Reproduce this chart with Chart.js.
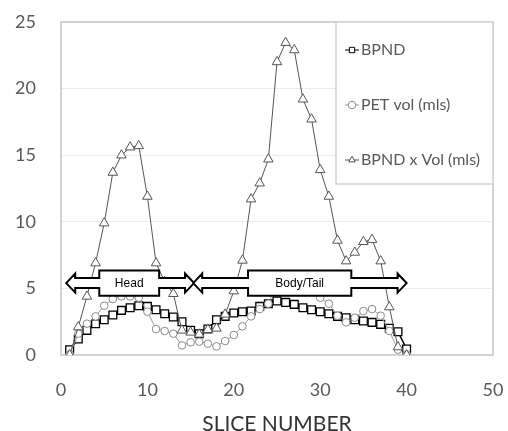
<!DOCTYPE html>
<html>
<head>
<meta charset="utf-8">
<script src="https://cdn.jsdelivr.net/npm/chart.js@4.4.1/dist/chart.umd.min.js"></script>
<style>
  html, body { margin: 0; padding: 0; background: #fff; }
  #wrap { width: 508px; height: 431px; }
</style>
</head>
<body>
<div id="wrap"><canvas id="chart" width="508" height="431"></canvas></div>
<script>
// Slice numbers and the three series
const slices = [1, 2, 3, 4, 5, 6, 7, 8, 9, 10, 11, 12, 13, 14, 15, 16, 17, 18, 19, 20,
                21, 22, 23, 24, 25, 26, 27, 28, 29, 30, 31, 32, 33, 34, 35, 36, 37, 38, 39, 40];
const bpnd = [0.4, 1.2, 1.85, 2.35, 2.65, 3.0, 3.35, 3.55, 3.7, 3.65, 3.4, 3.1, 2.85, 2.5, 1.85, 1.6, 1.95, 2.65, 2.9, 3.15,
              3.25, 3.3, 3.65, 3.85, 4.05, 3.95, 3.8, 3.55, 3.4, 3.25, 3.1, 2.9, 2.8, 2.65, 2.55, 2.45, 2.3, 2.0, 1.75, 0.45];
const petVol = [0.05, 1.6, 2.35, 2.9, 3.7, 4.2, 4.4, 4.4, 4.3, 3.25, 1.95, 1.8, 1.6, 0.72, 0.95, 1.0, 0.85, 0.65, 1.05, 1.5,
                2.15, 2.9, 3.45, 3.85, 5.4, 5.9, 6.0, 5.4, 5.2, 4.3, 3.85, 2.95, 2.45, 2.8, 3.3, 3.45, 2.95, 1.8, 0.4, 0.05];
const bpndVol = [0, 2.1, 4.4, 6.9, 9.9, 13.7, 15.0, 15.6, 15.7, 11.9, 6.9, 5.5, 4.6, 1.85, 1.7, 1.55, 1.9, 2.0, 3.05, 4.8,
                 7.1, 11.7, 12.9, 14.7, 22.0, 23.45, 22.9, 19.2, 17.7, 13.9, 11.9, 8.6, 7.05, 7.7, 8.5, 8.66, 7.05, 3.6, 0.6, 0];
const seriesNames = ['BPND', 'PET vol (mls)', 'BPND x Vol (mls)'];
const xTicks = [0, 10, 20, 30, 40, 50];
const yTicks = [0, 5, 10, 15, 20, 25];

// Region arrows (in slice / value units)
const regionNames = ['Head', 'Body/Tail'];
const regionFrom = [0.6, 15.3];
const regionTo = [15.4, 40.0];
const regionBoxFrom = [4.43, 21.65];
const regionBoxTo = [11.36, 33.6];
const regionMid = 5.4;
const regionBoxTop = 6.35;
const regionBoxBottom = 4.45;

function toPoints(values) {
    return slices.map((s, i) => ({ x: s, y: values[i] }));
}

// Light grey frame round the plot area
const frame = {
    id: 'frame',
    beforeDatasetsDraw(chart) {
        const a = chart.chartArea;
        const ctx = chart.ctx;
        ctx.save();
        ctx.strokeStyle = '#d3d3d3';
        ctx.lineWidth = 2;
        ctx.strokeRect(a.left, a.top, a.right - a.left, a.bottom - a.top);
        ctx.restore();
    }
};

// Double block arrows marking head and body/tail
const regions = {
    id: 'regions',
    afterDatasetsDraw(chart) {
        const ctx = chart.ctx;
        const xs = chart.scales.x;
        const ys = chart.scales.y;
        const yc = ys.getPixelForValue(regionMid);
        const bt = ys.getPixelForValue(regionBoxTop);
        const bb = ys.getPixelForValue(regionBoxBottom);
        const shaft = 5, head = 9.5, headLen = 9;
        ctx.save();
        regionNames.forEach((name, i) => {
            const x0 = xs.getPixelForValue(regionFrom[i]);
            const x1 = xs.getPixelForValue(regionTo[i]);
            const b0 = xs.getPixelForValue(regionBoxFrom[i]);
            const b1 = xs.getPixelForValue(regionBoxTo[i]);
            ctx.beginPath();
            ctx.moveTo(x0, yc);
            ctx.lineTo(x0 + headLen, yc - head);
            ctx.lineTo(x0 + headLen, yc - shaft);
            ctx.lineTo(b0, yc - shaft);
            ctx.lineTo(b0, bt);
            ctx.lineTo(b1, bt);
            ctx.lineTo(b1, yc - shaft);
            ctx.lineTo(x1 - headLen, yc - shaft);
            ctx.lineTo(x1 - headLen, yc - head);
            ctx.lineTo(x1, yc);
            ctx.lineTo(x1 - headLen, yc + head);
            ctx.lineTo(x1 - headLen, yc + shaft);
            ctx.lineTo(b1, yc + shaft);
            ctx.lineTo(b1, bb);
            ctx.lineTo(b0, bb);
            ctx.lineTo(b0, yc + shaft);
            ctx.lineTo(x0 + headLen, yc + shaft);
            ctx.lineTo(x0 + headLen, yc + head);
            ctx.closePath();
            ctx.fillStyle = '#fff';
            ctx.fill();
            ctx.lineWidth = 2;
            ctx.lineJoin = 'miter';
            ctx.strokeStyle = '#000';
            ctx.stroke();
            ctx.fillStyle = '#000';
            ctx.font = '12px "Liberation Sans", Arial, sans-serif';
            ctx.textAlign = 'center';
            ctx.textBaseline = 'middle';
            ctx.fillText(name, (b0 + b1) / 2, (bt + bb) / 2 + 1);
        });
        ctx.restore();
    }
};

// Legend box sitting inside the top right of the plot
const insideLegend = {
    id: 'insideLegend',
    afterDraw(chart) {
        const a = chart.chartArea;
        const ctx = chart.ctx;
        const w = 157, h = 162;
        const x0 = a.right - w;
        const y0 = a.top;
        ctx.save();
        ctx.fillStyle = '#fff';
        ctx.fillRect(x0, y0, w, h);
        ctx.strokeStyle = '#d3d3d3';
        ctx.lineWidth = 1.5;
        ctx.strokeRect(x0, y0, w, h);
        chart.data.datasets.forEach((ds, i) => {
            const y = y0 + 28 + i * 55;
            ctx.strokeStyle = ds.borderColor;
            ctx.lineWidth = 1;
            ctx.beginPath();
            ctx.moveTo(x0 + 9, y);
            ctx.lineTo(x0 + 23, y);
            ctx.stroke();
            ctx.fillStyle = '#fff';
            ctx.strokeStyle = ds.pointBorderColor;
            ctx.lineWidth = 1;
            Chart.helpers.drawPoint(ctx, { pointStyle: ds.pointStyle, radius: 3.8, borderWidth: 1, rotation: 0 }, x0 + 16, y);
            ctx.fillStyle = '#595959';
            ctx.font = '16px Lato, sans-serif';
            ctx.textAlign = 'left';
            ctx.textBaseline = 'middle';
            ctx.fillText(ds.label, x0 + 25, y);
        });
        ctx.restore();
    }
};

const ctx = document.getElementById('chart').getContext('2d');
new Chart(ctx, {
    type: 'line',
    data: {
        datasets: [{
            label: seriesNames[0],
            data: toPoints(bpnd),
            borderColor: '#000',
            borderWidth: 1.5,
            pointStyle: 'rect',
            pointRadius: 5.5,
            pointBorderWidth: 1.3,
            pointBorderColor: '#000',
            pointBackgroundColor: '#fff',
            order: 3
        }, {
            label: seriesNames[1],
            data: toPoints(petVol),
            borderColor: '#9a9a9a',
            borderWidth: 1,
            pointStyle: 'circle',
            pointRadius: 3.8,
            pointBorderWidth: 1,
            pointBorderColor: '#8a8a8a',
            pointBackgroundColor: '#fff',
            order: 2
        }, {
            label: seriesNames[2],
            data: toPoints(bpndVol),
            borderColor: '#555',
            borderWidth: 1,
            pointStyle: 'triangle',
            pointRadius: 5.5,
            pointBorderWidth: 1,
            pointBorderColor: '#555',
            pointBackgroundColor: '#fff',
            order: 1
        }]
    },
    options: {
        responsive: false,
        animation: false,
        layout: { padding: { left: 0, top: 22, right: 15, bottom: 0 } },
        plugins: {
            legend: { display: false },
            tooltip: { enabled: false }
        },
        scales: {
            x: {
                type: 'linear',
                min: 0,
                max: 50,
                afterBuildTicks: (s) => { s.ticks = xTicks.map(v => ({ value: v })); },
                afterFit: (s) => { s.height = 76; s.paddingLeft = 0; s.paddingRight = 0; },
                grid: { display: false, drawTicks: false, tickLength: 0 },
                border: { display: false },
                ticks: {
                    color: '#595959',
                    font: { family: 'Lato', size: 18 },
                    padding: 24,
                    maxRotation: 0
                },
                title: {
                    display: true,
                    text: 'SLICE NUMBER',
                    color: '#333',
                    font: { family: 'Lato', size: 21 },
                    padding: { top: 0, bottom: -6 }
                }
            },
            y: {
                min: 0,
                max: 25,
                afterBuildTicks: (s) => { s.ticks = yTicks.map(v => ({ value: v })); },
                afterFit: (s) => { s.width = 61; s.paddingTop = 0; s.paddingBottom = 0; },
                grid: {
                    drawTicks: false,
                    tickLength: 0,
                    color: '#ebebeb',
                    lineWidth: 1
                },
                border: { display: false },
                ticks: {
                    color: '#595959',
                    font: { family: 'Lato', size: 18 },
                    padding: 25
                }
            }
        }
    },
    plugins: [frame, regions, insideLegend]
});
</script>
</body>
</html>
